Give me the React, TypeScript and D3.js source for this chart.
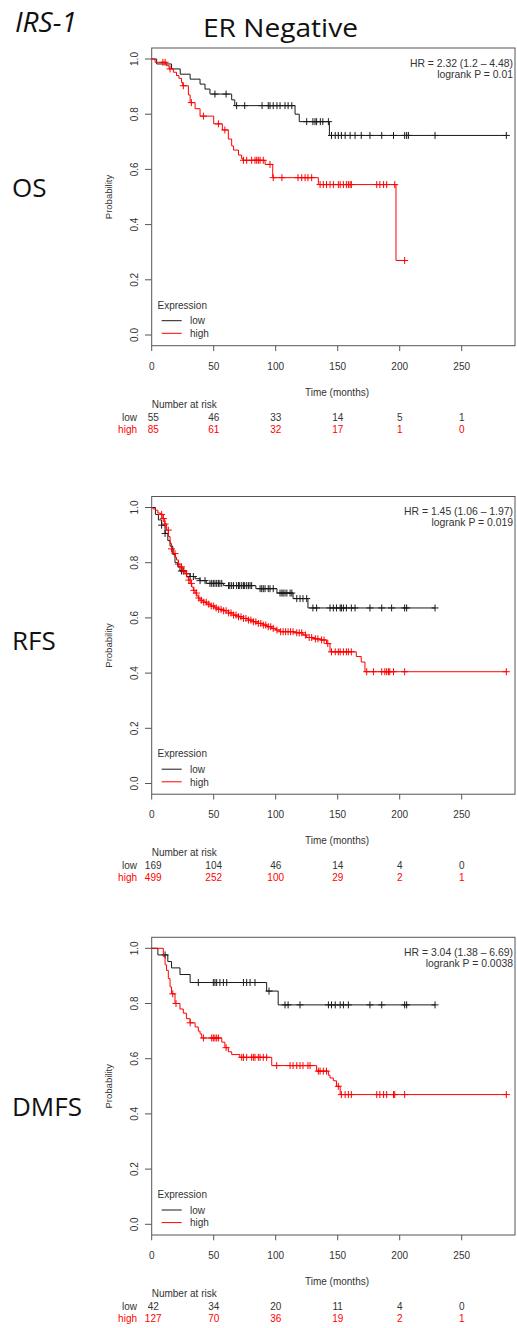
import React from 'react';
import * as d3 from 'd3';

const timeTicks = [0, 50, 100, 150, 200, 250];
const probTicks = [0, 0.2, 0.4, 0.6, 0.8, 1.0];

// OS
const osLowEvents = [4, 16, 23, 31, 39, 43, 47, 64.5, 67, 115.6, 119, 143.3];
const osLowSurv = [0.982, 0.964, 0.945, 0.927, 0.909, 0.891, 0.873, 0.852, 0.831, 0.8, 0.773, 0.723];
const osLowCensor = [51, 60, 68.5, 75, 89, 94, 95.4, 98, 101, 103.5, 107.5, 110, 113, 125, 130, 131.7, 133, 136, 138, 142.5, 145, 148, 150.5, 153, 156, 160, 164, 169, 176, 185.5, 195, 204, 205.6, 207, 228.5, 286];
const osHighEvents = [2.7, 12, 14, 17.5, 20, 22, 24, 25, 29.6, 31, 35, 39, 50, 57, 61.8, 64.5, 66, 70, 72.5, 73.5, 91.4, 97.6, 134.4, 197];
const osHighSurv = [0.988, 0.976, 0.964, 0.952, 0.94, 0.93, 0.915, 0.903, 0.87, 0.842, 0.82, 0.793, 0.765, 0.743, 0.71, 0.685, 0.67, 0.652, 0.64, 0.633, 0.618, 0.57, 0.545, 0.27];
const osHighCensor = [9, 10.8, 14.8, 25.5, 32, 41.7, 53.8, 59, 74, 76.6, 80.6, 83.3, 84.7, 86, 87.4, 90, 95.4, 98, 105, 118, 121, 123.7, 126, 129, 135.8, 138.4, 141, 143.8, 146.5, 150.5, 152, 154.6, 157, 158.6, 160, 161, 181.5, 184, 187, 189.5, 196, 204];
const osLowRisk = [55, 46, 33, 14, 5, 1];
const osHighRisk = [85, 61, 32, 17, 1, 0];

// RFS
const rfsLowEvents = [3, 5.4, 8, 10.8, 13, 14.8, 17, 18.8, 21, 22.8, 28, 31, 35, 39, 44, 58, 84, 101, 114, 126];
const rfsLowSurv = [0.975, 0.955, 0.936, 0.906, 0.88, 0.86, 0.83, 0.8, 0.785, 0.77, 0.76, 0.75, 0.742, 0.735, 0.725, 0.717, 0.706, 0.69, 0.67, 0.636];
const rfsLowCensor = [8, 10.8, 24, 25.5, 31, 33.6, 39, 43, 47, 48.4, 49.7, 51, 52.4, 53.8, 55, 56.5, 62, 63, 64.5, 66, 68.5, 70, 71, 72.6, 74, 75, 76.6, 78, 79.3, 80.6, 87.4, 88.7, 90, 91.4, 94, 95.4, 98, 103.5, 105, 106, 107.5, 109, 111.6, 113, 117, 119.6, 122, 125, 130, 133, 143.8, 146.5, 149, 152, 153, 154.6, 157, 161, 164, 176, 185.5, 193.5, 204, 205.6, 228.5];
const rfsHighEvents = [1, 3, 5, 7, 9, 10.5, 12, 13.5, 14.8, 16, 17.5, 19, 20, 21.5, 22.8, 25, 26.9, 28.3, 29.6, 31, 32.3, 33.6, 35, 36.3, 37.6, 39, 41.5, 44.4, 48, 51, 54, 57.8, 62, 65.9, 70, 74, 78, 82, 86, 90, 93, 96.8, 100, 103.5, 115, 122, 125, 130, 135.8, 141, 143.8, 165, 169, 172];
const rfsHighSurv = [0.995, 0.99, 0.98, 0.975, 0.96, 0.94, 0.918, 0.895, 0.87, 0.85, 0.833, 0.82, 0.81, 0.795, 0.785, 0.77, 0.76, 0.748, 0.737, 0.725, 0.712, 0.7, 0.69, 0.68, 0.672, 0.664, 0.657, 0.65, 0.643, 0.636, 0.631, 0.626, 0.618, 0.61, 0.604, 0.598, 0.592, 0.586, 0.58, 0.574, 0.568, 0.562, 0.556, 0.55, 0.546, 0.538, 0.529, 0.524, 0.52, 0.507, 0.477, 0.46, 0.44, 0.405];
const rfsHighCensor = [8, 9.4, 10.8, 13.4, 16, 18.8, 21.5, 24, 26, 28, 30, 32, 34, 36, 38, 40, 42, 44, 46, 48, 50, 52, 54, 56, 58, 60, 62, 64, 66, 68, 70, 72, 74, 76, 78, 80, 82, 84, 86, 88, 90, 92, 94, 96, 98, 101, 104, 106, 108, 110, 112, 114, 117, 119, 121, 124, 127, 129, 132, 134, 137, 139, 142, 145, 148, 150.5, 152, 154.6, 157, 158.6, 161, 173.4, 178.8, 185.5, 188, 189.5, 191, 192, 195, 204, 286];
const rfsLowRisk = [169, 104, 46, 14, 4, 0];
const rfsHighRisk = [499, 252, 100, 29, 2, 1];

// DMFS
const dmfsLowEvents = [5, 13, 16, 22.8, 31, 92.7, 102];
const dmfsLowSurv = [0.976, 0.952, 0.929, 0.905, 0.876, 0.845, 0.795];
const dmfsLowCensor = [10.8, 37.6, 49.7, 51, 52.4, 55, 57.8, 60.5, 74, 76.6, 79.3, 83.3, 94.6, 107.5, 110, 119.6, 142.5, 145, 148, 152, 154.6, 158.6, 176, 185.5, 204, 205.6, 228.5];
const dmfsHighEvents = [9.4, 10.8, 12, 13.4, 14.8, 16, 18.8, 22.8, 25.5, 28, 31, 35, 37.6, 39, 40.3, 56.5, 59, 61.8, 64.5, 71, 96.8, 133, 142.5, 143.8, 146.5, 149, 152];
const dmfsHighSurv = [0.97, 0.94, 0.92, 0.89, 0.86, 0.835, 0.8, 0.78, 0.765, 0.745, 0.73, 0.715, 0.7, 0.69, 0.675, 0.66, 0.64, 0.625, 0.615, 0.605, 0.575, 0.555, 0.54, 0.53, 0.52, 0.5, 0.47];
const dmfsHighCensor = [17, 19.6, 31, 41.7, 48.4, 49.7, 51, 52.4, 53.8, 60, 72.6, 74, 76.6, 80.6, 82, 83.3, 86, 87.4, 90, 92.7, 100.8, 111.6, 114, 117, 119.6, 122, 126, 127.7, 134.4, 135.8, 138.4, 141, 150.5, 153, 156, 158.6, 161, 181.5, 184, 187, 189.5, 195, 196, 204, 286];
const dmfsLowRisk = [42, 34, 20, 11, 4, 0];
const dmfsHighRisk = [127, 70, 36, 19, 2, 1];

const RFONT = 'Liberation Sans, Arial, Helvetica, sans-serif';
const TEXT = '#333';
const LOW = '#1a1a1a';
const HIGH = '#ff0000';

const survAt = (events, surv, t) => {
  let s = 1;
  for (let i = 0; i < events.length; i++) {
    if (events[i] <= t) s = surv[i];
  }
  return s;
};

const Curve = ({ x, y, events, surv, censor, color }) => {
  const end = Math.max(d3.max(censor) ?? 0, d3.max(events) ?? 0);
  const pts = [[0, 1], ...events.map((t, i) => [t, surv[i]]), [end, surv[surv.length - 1]]];
  const line = d3.line().x(d => x(d[0])).y(d => y(d[1])).curve(d3.curveStepAfter);
  return (
    <g>
      <path d={line(pts)} fill="none" stroke={color} strokeWidth={1} />
      {censor.map((t, i) => {
        const cx = x(t);
        const cy = y(survAt(events, surv, t));
        return (
          <path key={i} d={`M${cx - 3.5},${cy}H${cx + 3.5}M${cx},${cy - 3.5}V${cy + 3.5}`} stroke={color} strokeWidth={1} />
        );
      })}
    </g>
  );
};

const Panel = ({ top, name, nameY, low, high, lowRisk, highRisk, hr, p }) => {
  const x = d3.scaleLinear().domain([0, 250]).range([151.7, 461.7]);
  const y = d3.scaleLinear().domain([0, 1]).range([335, 59]);
  return (
    <g transform={`translate(0,${top})`}>
      <text x={12} y={nameY} fontFamily="Open Sans, sans-serif" fontSize={26} fill="#111">{name}</text>
      <rect x={151.7} y={48} width={363.3} height={297.7} fill="none" stroke="#555" strokeWidth={1} />
      {probTicks.map(v => (
        <g key={v}>
          <line x1={145} x2={151.7} y1={y(v)} y2={y(v)} stroke="#555" />
          <text transform={`translate(137.5,${y(v)}) rotate(-90)`} textAnchor="middle" fontFamily={RFONT} fontSize={10} fill={TEXT}>{v.toFixed(1)}</text>
        </g>
      ))}
      <text transform={`translate(112,${(y(0) + y(1)) / 2}) rotate(-90)`} textAnchor="middle" fontFamily={RFONT} fontSize={9.5} fill={TEXT}>Probability</text>
      {timeTicks.map(t => (
        <g key={t}>
          <line x1={x(t)} x2={x(t)} y1={345.7} y2={351} stroke="#555" />
          <text x={x(t)} y={369.5} textAnchor="middle" fontFamily={RFONT} fontSize={10} fill={TEXT}>{t}</text>
        </g>
      ))}
      <text x={337} y={395.5} textAnchor="middle" fontFamily={RFONT} fontSize={10} fill={TEXT}>Time (months)</text>
      <text x={151.7} y={407.5} fontFamily={RFONT} fontSize={10} fill={TEXT}>Number at risk</text>
      <text x={137} y={420.5} textAnchor="end" fontFamily={RFONT} fontSize={10} fill={TEXT}>low</text>
      <text x={137} y={432.8} textAnchor="end" fontFamily={RFONT} fontSize={10} fill={HIGH}>high</text>
      {timeTicks.map((t, i) => (
        <g key={t}>
          <text x={x(t) + (i === 0 ? 1.5 : 0)} y={420.5} textAnchor="middle" fontFamily={RFONT} fontSize={10} fill={TEXT}>{lowRisk[i]}</text>
          <text x={x(t) + (i === 0 ? 1.5 : 0)} y={432.8} textAnchor="middle" fontFamily={RFONT} fontSize={10} fill={HIGH}>{highRisk[i]}</text>
        </g>
      ))}
      <text x={513} y={66.5} textAnchor="end" fontFamily={RFONT} fontSize={10.4} fill={TEXT}>{hr}</text>
      <text x={513} y={77.5} textAnchor="end" fontFamily={RFONT} fontSize={10.4} fill={TEXT}>{p}</text>
      <text x={157.5} y={308.5} fontFamily={RFONT} fontSize={10} fill={TEXT}>Expression</text>
      <line x1={161.7} x2={181.7} y1={320.7} y2={320.7} stroke={LOW} />
      <text x={190} y={324.3} fontFamily={RFONT} fontSize={10} fill={TEXT}>low</text>
      <line x1={161.7} x2={181.7} y1={333.3} y2={333.3} stroke={HIGH} />
      <text x={190} y={337} fontFamily={RFONT} fontSize={10} fill={TEXT}>high</text>
      <Curve x={x} y={y} {...low} color={LOW} />
      <Curve x={x} y={y} {...high} color={HIGH} />
    </g>
  );
};

export default function App() {
  return (
    <svg width={517} height={1328} style={{ position: 'absolute', left: 0, top: 0, background: '#fff' }}>
      <text x={15} y={32} fontFamily="Open Sans, sans-serif" fontStyle="italic" fontSize={28} fill="#111">IRS-1</text>
      <text x={203} y={36.5} fontFamily="Open Sans, sans-serif" fontSize={26} textLength={155} lengthAdjust="spacingAndGlyphs" fill="#111">ER Negative</text>
      <Panel top={0} name="OS" nameY={197} hr="HR = 2.32 (1.2 – 4.48)" p="logrank P = 0.01"
        low={{ events: osLowEvents, surv: osLowSurv, censor: osLowCensor }}
        high={{ events: osHighEvents, surv: osHighSurv, censor: osHighCensor }}
        lowRisk={osLowRisk} highRisk={osHighRisk} />
      <Panel top={448.5} name="RFS" nameY={201.5} hr="HR = 1.45 (1.06 – 1.97)" p="logrank P = 0.019"
        low={{ events: rfsLowEvents, surv: rfsLowSurv, censor: rfsLowCensor }}
        high={{ events: rfsHighEvents, surv: rfsHighSurv, censor: rfsHighCensor }}
        lowRisk={rfsLowRisk} highRisk={rfsHighRisk} />
      <Panel top={889.3} name="DMFS" nameY={227} hr="HR = 3.04 (1.38 – 6.69)" p="logrank P = 0.0038"
        low={{ events: dmfsLowEvents, surv: dmfsLowSurv, censor: dmfsLowCensor }}
        high={{ events: dmfsHighEvents, surv: dmfsHighSurv, censor: dmfsHighCensor }}
        lowRisk={dmfsLowRisk} highRisk={dmfsHighRisk} />
    </svg>
  );
}
